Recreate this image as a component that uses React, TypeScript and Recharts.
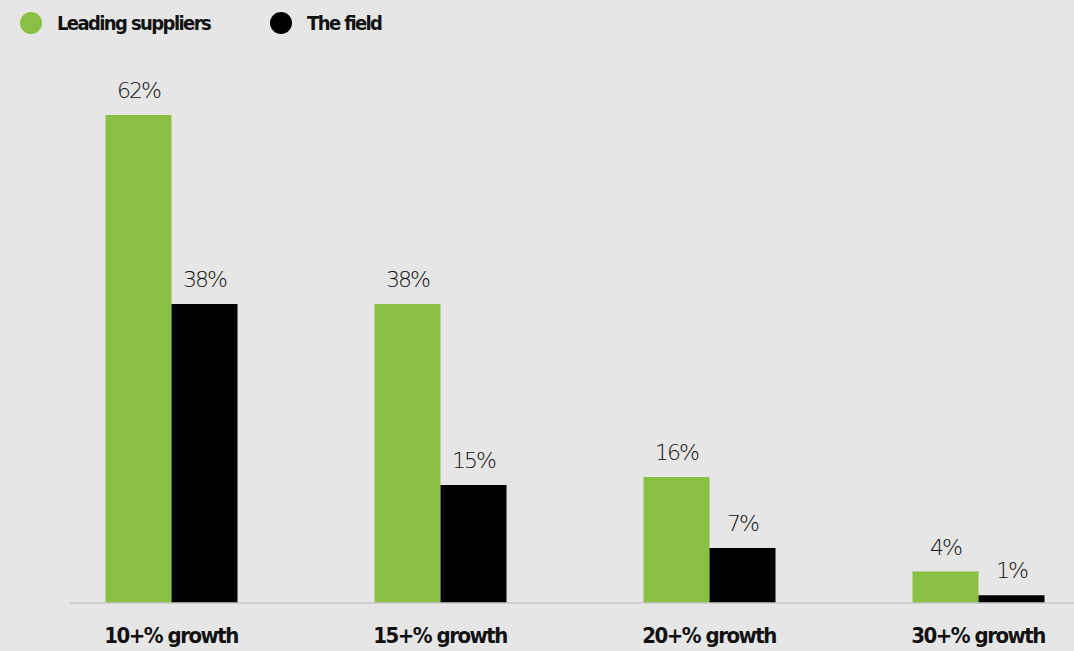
import React from 'react';
import { BarChart, Bar, XAxis, YAxis, LabelList } from 'recharts';

const categories = ['10+% growth', '15+% growth', '20+% growth', '30+% growth'];
const leadingSuppliers = [62, 38, 16, 4];
const theField = [38, 15, 7, 1];

const GREEN = '#89bf42';
const BLACK = '#000000';
const FONT = '"DejaVu Sans", sans-serif';

const data = categories.map((name, i) => ({
  name,
  leading: leadingSuppliers[i],
  field: theField[i],
}));

const legendItems = [
  { label: 'Leading suppliers', color: GREEN },
  { label: 'The field', color: BLACK },
];

// legend drawn as plain html so it does not push the plot down
const ChartLegend = () => (
  <div
    style={{
      position: 'absolute',
      top: 11,
      left: 20,
      display: 'flex',
      alignItems: 'center',
      fontFamily: FONT,
      fontStretch: 'condensed',
      fontWeight: 700,
      fontSize: 20,
      color: '#111',
      letterSpacing: -1.6,
    }}
  >
    {legendItems.map((item, i) => (
      <div key={item.label} style={{ display: 'flex', alignItems: 'center', marginRight: i === 0 ? 60 : 0 }}>
        <span style={{ width: 22, height: 22, borderRadius: '50%', background: item.color, display: 'inline-block', marginRight: 15 }} />
        <span>{item.label}</span>
      </div>
    ))}
  </div>
);

const labelStyle = { fontFamily: FONT, fontStretch: 'condensed', fontSize: 22, fill: '#111', fontWeight: 300, letterSpacing: -2 } as any;

const App: React.FC = () => {
  return (
    <div style={{ position: 'absolute', left: 0, top: 0, width: 1074, height: 651, overflow: 'hidden', background: '#e6e6e6' }}>
      <ChartLegend />
      <BarChart
        width={1074}
        height={651}
        data={data}
        margin={{ top: 52, right: 0, left: 70, bottom: 0 }}
        barGap={0}
      >
        <XAxis
          dataKey="name"
          height={48}
          padding={{ left: -33.5, right: -38.5 }}
          axisLine={{ stroke: '#c9c9c9', strokeWidth: 1.5 }}
          tickLine={false}
          tickSize={0}
          tickMargin={24}
          tick={{ fontFamily: FONT, fontStretch: 'condensed', fontWeight: 700, fontSize: 22, fill: '#111', letterSpacing: -1.5 } as any}
        />
        <YAxis hide domain={[0, 70]} width={0} />
        <Bar dataKey="leading" fill={GREEN} barSize={66} isAnimationActive={false}>
          <LabelList
            dataKey="leading"
            position="top"
            offset={17}
            formatter={(v: any) => `${v}%`}
            style={labelStyle}
          />
        </Bar>
        <Bar dataKey="field" fill={BLACK} barSize={66} isAnimationActive={false}>
          <LabelList
            dataKey="field"
            position="top"
            offset={17}
            formatter={(v: any) => `${v}%`}
            style={labelStyle}
          />
        </Bar>
      </BarChart>
    </div>
  );
};

export default App;
